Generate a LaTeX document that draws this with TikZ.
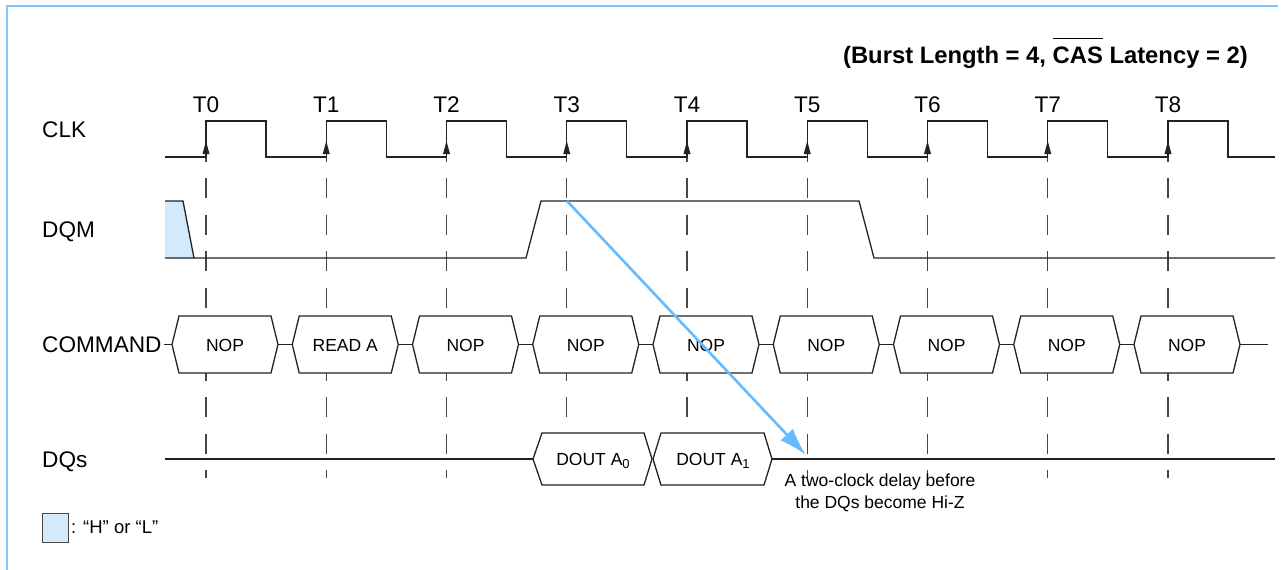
\documentclass[tikz,border=0pt]{standalone}
\usepackage{fontspec}
\setmainfont{Liberation Sans}
\usetikzlibrary{arrows.meta}
\definecolor{frameblue}{RGB}{128,196,255}
\definecolor{arrowblue}{RGB}{102,187,255}
\definecolor{fillblue}{RGB}{210,234,252}
\definecolor{wavecol}{RGB}{35,35,35}
\definecolor{gridcol}{RGB}{70,70,70}
\newcommand\ovl[1]{\leavevmode\vbox{\hrule height 1.5pt\kern 7pt\hbox{#1}}}
\tikzset{
  wave/.style={draw=wavecol, line width=1.3pt, line join=miter},
  gridline/.style={draw=gridcol, line width=1.3pt, dash pattern=on 20pt off 16.5pt},
  lbl/.style={font=\fontsize{22.6}{26}\selectfont, inner sep=0pt},
  boxtxt/.style={font=\fontsize{17.5}{21}\selectfont, inner sep=0pt},
  hexbox/.style={wave, fill=white},
  delayarrow/.style={draw=arrowblue, line width=2.6pt, -{Latex[length=28pt,width=17pt]}},
}
\begin{document}
\begin{tikzpicture}[x=1pt,y=-1pt]
\useasboundingbox (0,0) rectangle (1286,570);
% frame
\draw[frameblue, line width=2.5pt] (7,571) -- (7,6) -- (1278,6);
% title
\node[anchor=base east, inner sep=0pt, font=\bfseries\fontsize{23.8}{28}\selectfont] (title) at (1248,63)
  {(Burst Length = 4, \ovl{CAS} Latency = 2)};
% signal labels
\node[lbl, anchor=base west] (lclk) at (42,137.5) {CLK};
\node[lbl, anchor=base west] (ldqm) at (42,237.5) {DQM};
\node[lbl, anchor=base west] (lcmd) at (42,352.5) {COMMAND};
\node[lbl, anchor=base west] (ldq) at (42,467) {DQs};
% dashed timing lines and T labels
\foreach \i in {0,...,8} {
  \pgfmathsetmacro\tx{206+120.25*\i}
  \draw[gridline] (\tx,141.5) -- (\tx,478);
  \node[lbl, anchor=base] (t\i) at (\tx,112) {T\i};
}
% clock
\draw[wave] (165,157) foreach \i in {0,...,8} {
  -- (206+120.25*\i,157) -- ++(0,-36) -- ++(60,0) -- ++(0,36)} -- (1275,157);
\foreach \i in {0,...,8} {
  \pgfmathsetmacro\tx{206+120.25*\i}
  \fill[wavecol] (\tx,141) -- (\tx-3.5,154) -- (\tx+3.5,154) -- cycle;
}
% DQM
\fill[fillblue] (165,201) -- (183,201) -- (194,258) -- (165,258) -- cycle;
\draw[wave] (165,201) -- (183,201) -- (194,258);
\draw[wave] (165,258) -- (526,258) -- (541,201) -- (859,201) -- (874,258) -- (1275,258);
% COMMAND
\draw[wave] (164,344.5) -- (172,344.5);
\foreach \i/\c in {0/NOP,1/READ A,2/NOP,3/NOP,4/NOP,5/NOP,6/NOP,7/NOP,8/NOP} {
  \pgfmathsetmacro\L{172+120.25*\i}
  \draw[hexbox] (\L,344.5) -- (\L+7,316) -- (\L+99,316) -- (\L+106,344.5) -- (\L+99,373) -- (\L+7,373) -- cycle;
  \node[boxtxt, anchor=base] (c\i) at (\L+53,351) {\c};
}
\foreach \i in {0,...,7} {
  \pgfmathsetmacro\R{278+120.25*\i}
  \draw[wave] (\R,344.5) -- (\R+14.25,344.5);
}
\draw[wave] (1240,344.5) -- (1268,344.5);
% DQs
\draw[wave] (165,459) -- (533,459);
\draw[hexbox] (533,459) -- (542,433) -- (644,433) -- (652,459) -- (644,485) -- (542,485) -- cycle;
\draw[hexbox] (653,459) -- (661,433) -- (764,433) -- (772,459) -- (764,485) -- (661,485) -- cycle;
\draw[wave] (772,459) -- (1275,459);
\node[boxtxt, anchor=base] (d0) at (593,465) {DOUT A\raisebox{-3.5pt}{\fontsize{13}{13}\selectfont 0}};
\node[boxtxt, anchor=base] (d1) at (713,465) {DOUT A\raisebox{-3.5pt}{\fontsize{13}{13}\selectfont 1}};
% delay arrow
\coordinate (dqmhi) at (567,201);
\coordinate (hiz) at (806,455);
\draw[delayarrow] (dqmhi) -- (hiz);
\node[boxtxt, anchor=base] (note1) at (880,486) {A two-clock delay before};
\node[boxtxt, anchor=base] (note2) at (880,508) {the DQs become Hi-Z};
% legend
\draw[draw=gridcol, line width=1pt, fill=fillblue] (42,513) rectangle (68,542);
\node[anchor=base west, inner sep=0pt, font=\fontsize{18.5}{22}\selectfont] (legend) at (71,533) {: “H” or “L”};
\end{tikzpicture}
\end{document}
